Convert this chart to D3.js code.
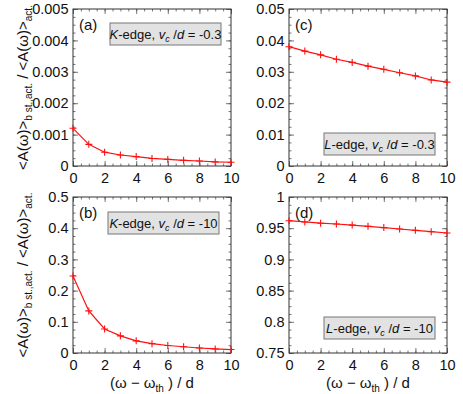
<!DOCTYPE html>
<html>
<head>
<meta charset="utf-8">
<script src="https://cdn.jsdelivr.net/npm/d3@7"></script>
<style>
  body { margin: 0; background: #fff; }
  svg { display: block; }
  text { font-family: "Liberation Sans", Arial, Helvetica, sans-serif; fill: #111; }
</style>
</head>
<body>
<svg width="463" height="394"></svg>
<script>
// x positions (omega - omega_th) / d
var xValues = [0, 1, 2, 3, 4, 5, 6, 7, 8, 9, 10];

// ratio values
var kEdgeWeak = [0.00120, 0.00069, 0.00044, 0.00035, 0.00030, 0.00024, 0.00021, 0.00018, 0.00016, 0.00013, 0.00012]; // (a)
var lEdgeWeak = [0.0380, 0.0366, 0.0354, 0.0340, 0.0330, 0.0318, 0.0308, 0.0297, 0.0287, 0.0274, 0.0267];            // (c)
var kEdgeStrong = [0.247, 0.135, 0.077, 0.055, 0.039, 0.030, 0.024, 0.020, 0.016, 0.013, 0.011];                      // (b)
var lEdgeStrong = [0.962, 0.960, 0.958, 0.9567, 0.955, 0.953, 0.951, 0.9487, 0.9466, 0.9444, 0.9423];                // (d)

// tick labels
var xTicks = [0, 2, 4, 6, 8, 10];
var yTicksA = ["0", "0.001", "0.002", "0.003", "0.004", "0.005"];
var yTicksC = ["0", "0.01", "0.02", "0.03", "0.04", "0.05"];
var yTicksB = ["0", "0.1", "0.2", "0.3", "0.4", "0.5"];
var yTicksD = ["0.75", "0.8", "0.85", "0.9", "0.95", "1"];

var svg = d3.select("svg");

var panels = [
  { tag: "(a)", values: kEdgeWeak, ticks: yTicksA, left: 73, top: 9, h: 157, edge: "K", vc: "-0.3", box: [37, 14], xTitle: false },
  { tag: "(c)", values: lEdgeWeak, ticks: yTicksC, left: 289, top: 9, h: 157, edge: "L", vc: "-0.3", box: [35, 124], xTitle: false },
  { tag: "(b)", values: kEdgeStrong, ticks: yTicksB, left: 73, top: 197, h: 156, edge: "K", vc: "-10", box: [35, 15], xTitle: true },
  { tag: "(d)", values: lEdgeStrong, ticks: yTicksD, left: 289, top: 197, h: 156, edge: "L", vc: "-10", box: [35, 120], xTitle: true }
];

var w = 158;

panels.forEach(function(p) {
  var yNums = p.ticks.map(Number);
  var yMin = yNums[0], yMax = yNums[yNums.length - 1];
  var yStep = (yMax - yMin) / 20;

  var xScale = d3.scaleLinear().domain([0, 10]).range([0, w]);
  var yScale = d3.scaleLinear().domain([yMin, yMax]).range([p.h, 0]);

  var g = svg.append("g").attr("transform", "translate(" + p.left + "," + p.top + ")");

  var xMinor = d3.range(0, 10.01, 0.5);
  var yMinor = d3.range(0, 21).map(function(i) { return yMin + i * yStep; });

  // axes: bottom/left with labels, top/right mirrored, all ticks pointing inward
  var axes = [
    [d3.axisBottom(xScale).tickValues(xTicks).tickSize(-5).tickPadding(7).tickFormat(d3.format("d")), "translate(0," + p.h + ")"],
    [d3.axisBottom(xScale).tickValues(xMinor).tickSize(-2.5).tickFormat(""), "translate(0," + p.h + ")"],
    [d3.axisTop(xScale).tickValues(xTicks).tickSize(-5).tickFormat(""), "translate(0,0)"],
    [d3.axisTop(xScale).tickValues(xMinor).tickSize(-2.5).tickFormat(""), "translate(0,0)"],
    [d3.axisLeft(yScale).tickValues(yNums).tickSize(-5).tickPadding(4.5).tickFormat(function(d, i) { return p.ticks[i]; }), "translate(0,0)"],
    [d3.axisLeft(yScale).tickValues(yMinor).tickSize(-2.5).tickFormat(""), "translate(0,0)"],
    [d3.axisRight(yScale).tickValues(yNums).tickSize(-5).tickFormat(""), "translate(" + w + ",0)"],
    [d3.axisRight(yScale).tickValues(yMinor).tickSize(-2.5).tickFormat(""), "translate(" + w + ",0)"]
  ];
  axes.forEach(function(a) {
    var ag = g.append("g").attr("transform", a[1]).call(a[0]);
    ag.select(".domain").remove();
    ag.selectAll("line").attr("stroke", "#555").attr("stroke-width", 0.8);
    ag.selectAll("text").style("font-size", "14.5px").attr("fill", "#111")
      .style("font-family", "'Liberation Sans', Arial, sans-serif");
  });

  // frame
  g.append("rect").attr("width", w).attr("height", p.h)
    .attr("fill", "none").attr("stroke", "#333").attr("stroke-width", 1);

  // data line and plus markers
  var line = d3.line()
    .x(function(d, i) { return xScale(xValues[i]); })
    .y(function(d) { return yScale(d); });

  g.append("path").datum(p.values).attr("d", line)
    .attr("fill", "none").attr("stroke", "#ff1010").attr("stroke-width", 1.2);

  g.selectAll(".mk").data(p.values).enter().append("path")
    .attr("transform", function(d, i) { return "translate(" + xScale(xValues[i]) + "," + yScale(d) + ")"; })
    .attr("d", "M-3.5,0H3.5M0,-3.5V3.5")
    .attr("stroke", "#ff1010").attr("stroke-width", 1.1);

  // panel tag
  g.append("text").attr("x", 6).attr("y", 21).style("font-size", "15px").text(p.tag);

  // label box
  var bw = 111, bh = 22;
  g.append("rect").attr("x", p.box[0]).attr("y", p.box[1]).attr("width", bw).attr("height", bh)
    .attr("fill", "#e2e2e2").attr("stroke", "#777").attr("stroke-width", 1);
  var t = g.append("text").attr("x", p.box[0] + bw / 2).attr("y", p.box[1] + 16)
    .attr("text-anchor", "middle").style("font-size", "13px");
  t.append("tspan").style("font-style", "italic").text(p.edge);
  t.append("tspan").text("-edge, ");
  t.append("tspan").style("font-style", "italic").text("v");
  t.append("tspan").style("font-style", "italic").style("font-size", "9px").attr("dy", 3).text("c");
  t.append("tspan").attr("dy", -3).text(" /");
  t.append("tspan").style("font-style", "italic").text("d");
  t.append("tspan").text(" = " + p.vc);

  // x title
  if (p.xTitle) {
    var xt = g.append("text").attr("x", w / 2).attr("y", p.h + 35)
      .attr("text-anchor", "middle").style("font-size", "15px");
    xt.append("tspan").text("(\u03c9 \u2212 \u03c9");
    xt.append("tspan").style("font-size", "10px").attr("dy", 4).text("th");
    xt.append("tspan").attr("dy", -4).text(" ) / d");
  }

  // y title (one per row, on the left column)
  if (p.left < 100) {
    var yt = svg.append("text")
      .attr("transform", "translate(28," + (p.top + p.h / 2) + ") rotate(-90)")
      .attr("text-anchor", "middle").style("font-size", "15px");
    yt.append("tspan").text("<A(\u03c9)>");
    yt.append("tspan").style("font-size", "10px").attr("dy", 4).text("b st.,act.");
    yt.append("tspan").attr("dy", -4).text(" / <A(\u03c9)>");
    yt.append("tspan").style("font-size", "10px").attr("dy", 4).text("act.");
  }
});
</script>
</body>
</html>
